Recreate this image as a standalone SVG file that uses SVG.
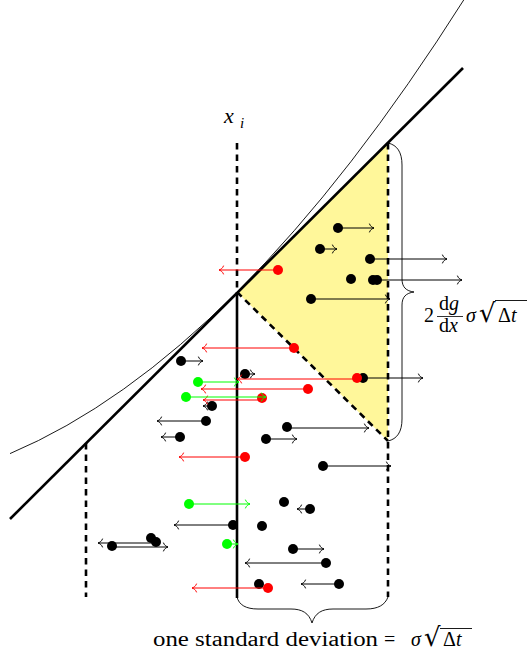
<svg xmlns="http://www.w3.org/2000/svg" width="528" height="655" viewBox="0 0 528 655">
<style>
.thick{stroke:#000;stroke-width:2.6;fill:none}
.dash{stroke:#000;stroke-width:2.6;fill:none;stroke-dasharray:6.5 5}
.thin{stroke:#000;stroke-width:0.9;fill:none}
.ak{stroke:#000;stroke-width:1;fill:none;marker-end:url(#mk)}
.ar{stroke:#ff0000;stroke-width:1;fill:none;marker-end:url(#mr)}
.ag{stroke:#00ff00;stroke-width:1;fill:none;marker-end:url(#mg)}
.dk{fill:#000}
.dr{fill:#ff0000}
.dg{fill:#00ff00}
text{font-family:"Liberation Serif","DejaVu Serif",serif;font-size:20px;fill:#000}
.it{font-style:italic}
.rad{font-family:"DejaVu Sans",sans-serif;font-size:26px}
</style>
<defs>
<marker id="mk" markerUnits="userSpaceOnUse" orient="auto" refX="0" refY="0" markerWidth="12" markerHeight="12" overflow="visible"><path d="M-4.5,-4 C-3.8,-1.8 -1.5,-0.4 0,0 C-1.5,0.4 -3.8,1.8 -4.5,4" fill="none" stroke="#000" stroke-width="1" stroke-linecap="round"/></marker>
<marker id="mr" markerUnits="userSpaceOnUse" orient="auto" refX="0" refY="0" markerWidth="12" markerHeight="12" overflow="visible"><path d="M-4.5,-4 C-3.8,-1.8 -1.5,-0.4 0,0 C-1.5,0.4 -3.8,1.8 -4.5,4" fill="none" stroke="#ff0000" stroke-width="1" stroke-linecap="round"/></marker>
<marker id="mg" markerUnits="userSpaceOnUse" orient="auto" refX="0" refY="0" markerWidth="12" markerHeight="12" overflow="visible"><path d="M-4.5,-4 C-3.8,-1.8 -1.5,-0.4 0,0 C-1.5,0.4 -3.8,1.8 -4.5,4" fill="none" stroke="#00ff00" stroke-width="1" stroke-linecap="round"/></marker>
</defs>
<rect width="528" height="655" fill="#fff"/>
<g id="region">
<polygon points="237,292 388,143 388,441" fill="#fff79a"/>
</g>
<g id="connectors">
<path class="thin" d="M10,453.6 Q237.5,357.3 465,-2"/>
<line class="thick" x1="10" y1="519" x2="463" y2="68"/>
<line class="dash" x1="237" y1="143" x2="237" y2="292"/>
<line class="thick" x1="237" y1="292" x2="237" y2="598"/>
<line class="dash" x1="86" y1="443" x2="86" y2="597"/>
<line class="dash" x1="388" y1="143" x2="388" y2="597"/>
<line class="dash" x1="237" y1="292" x2="388" y2="441"/>
<path class="thin" d="M388,143 C397,145 402,152 402,165 L402,279 C402,287 406,291 414,292 C406,293 402,297 402,305 L402,419 C402,432 397,439 388,441"/>
<path class="thin" d="M237,597 C239,605 246,609 258,609 L291,609 C302,609 309,613 312,623 C315,613 322,609 333,609 L366,609 C378,609 385,605 388,597"/>
</g>
<g id="particles-black">
<line class="ak" x1="338" y1="228" x2="374" y2="228"/><circle class="dk" cx="338" cy="228" r="5"/>
<line class="ak" x1="320" y1="249" x2="337" y2="249"/><circle class="dk" cx="320" cy="249" r="5"/>
<line class="ak" x1="370" y1="259" x2="447" y2="259"/><circle class="dk" cx="370" cy="259" r="5"/>
<circle class="dk" cx="351" cy="279" r="5"/>
<line class="ak" x1="377" y1="280" x2="462" y2="280"/><circle class="dk" cx="373" cy="280" r="5"/><circle class="dk" cx="377" cy="280" r="5"/>
<line class="ak" x1="311" y1="299" x2="390" y2="299"/><circle class="dk" cx="311" cy="299" r="5"/>
<line class="ak" x1="181" y1="361" x2="203" y2="361"/><circle class="dk" cx="181" cy="361" r="5"/>
<line class="ak" x1="245" y1="374" x2="255" y2="374"/><circle class="dk" cx="245" cy="374" r="5"/>
<line class="ak" x1="363" y1="378" x2="423" y2="378"/><circle class="dk" cx="363" cy="378" r="5"/>
<line class="ak" x1="212" y1="406" x2="203" y2="406"/><circle class="dk" cx="212" cy="406" r="5"/>
<line class="ak" x1="206" y1="421" x2="157" y2="421"/><circle class="dk" cx="206" cy="421" r="5"/>
<line class="ak" x1="180" y1="437" x2="161" y2="437"/><circle class="dk" cx="180" cy="437" r="5"/>
<line class="ak" x1="287" y1="428" x2="369" y2="428"/><circle class="dk" cx="287" cy="427" r="5"/>
<line class="ak" x1="266" y1="439" x2="297" y2="439"/><circle class="dk" cx="266" cy="439" r="5"/>
<line class="ak" x1="323" y1="466" x2="391" y2="466"/><circle class="dk" cx="323" cy="466" r="5"/>
<circle class="dk" cx="284" cy="502" r="5"/>
<line class="ak" x1="310" y1="509" x2="297" y2="509"/><circle class="dk" cx="310" cy="509" r="5"/>
<line class="ak" x1="233" y1="525" x2="174" y2="525"/><circle class="dk" cx="233" cy="525" r="5"/>
<circle class="dk" cx="262" cy="526" r="5"/>
<line class="ak" x1="156" y1="543" x2="98" y2="543"/>
<line class="ak" x1="112" y1="547" x2="168" y2="547"/>
<circle class="dk" cx="151" cy="538" r="5"/><circle class="dk" cx="156" cy="542" r="5"/><circle class="dk" cx="112" cy="546" r="5"/>
<line class="ak" x1="293" y1="549" x2="324" y2="549"/><circle class="dk" cx="293" cy="549" r="5"/>
<line class="ak" x1="326" y1="563" x2="245" y2="563"/><circle class="dk" cx="326" cy="563" r="5"/>
<circle class="dk" cx="259" cy="584" r="5"/>
<line class="ak" x1="339" y1="584" x2="301" y2="584"/><circle class="dk" cx="339" cy="584" r="5"/>
</g>
<g id="particles-red">
<line class="ar" x1="278" y1="270" x2="219" y2="270"/><circle class="dr" cx="278" cy="270" r="5"/>
<line class="ar" x1="294" y1="348" x2="202" y2="348"/><circle class="dr" cx="294" cy="348" r="5"/>
<line class="ar" x1="357" y1="379" x2="237" y2="379"/><circle class="dr" cx="357" cy="378" r="5"/>
<line class="ar" x1="308" y1="389" x2="201" y2="389"/><circle class="dr" cx="308" cy="389" r="5"/>
<line class="ar" x1="262" y1="400" x2="203" y2="400"/><circle class="dr" cx="262" cy="398" r="5"/>
<line class="ar" x1="245" y1="457" x2="179" y2="457"/><circle class="dr" cx="245" cy="457" r="5"/>
<line class="ar" x1="268" y1="588" x2="192" y2="588"/><circle class="dr" cx="268" cy="588" r="5"/>
</g>
<g id="particles-green">
<line class="ag" x1="198" y1="382" x2="239" y2="382"/><circle class="dg" cx="198" cy="382" r="5"/>
<line class="ag" x1="186" y1="397" x2="266" y2="397"/><circle class="dg" cx="186" cy="397" r="5"/>
<line class="ag" x1="189" y1="504" x2="250" y2="504"/><circle class="dg" cx="189" cy="504" r="5"/>
<line class="ag" x1="227" y1="544" x2="238" y2="544"/><circle class="dg" cx="227" cy="544" r="5"/>
</g>
<g id="label-xi">
<text x="224" y="123" class="it" style="font-size:22px">x</text><text x="240" y="128" class="it" style="font-size:15px">i</text>
</g>
<g id="label-right">
<text x="424" y="322">2</text>
<text x="439" y="310">d<tspan class="it">g</tspan></text>
<line x1="437" y1="316.5" x2="463" y2="316.5" stroke="#000" stroke-width="0.8"/>
<text x="439" y="332">d<tspan class="it">x</tspan></text>
<text x="466" y="322" class="it">σ</text>
<text x="479" y="322" class="rad">√</text>
<line x1="495" y1="300.5" x2="527" y2="300.5" stroke="#000" stroke-width="0.9"/>
<text x="498" y="322">Δ<tspan class="it">t</tspan></text>
</g>
<g id="label-bottom">
<text x="153" y="646" textLength="225" lengthAdjust="spacingAndGlyphs">one standard deviation</text>
<text x="384" y="646">=</text>
<text x="411" y="646" class="it">σ</text>
<text x="424" y="646" class="rad">√</text>
<line x1="440" y1="628.5" x2="472" y2="628.5" stroke="#000" stroke-width="0.9"/>
<text x="443" y="646">Δ<tspan class="it">t</tspan></text>
</g>
</svg>
